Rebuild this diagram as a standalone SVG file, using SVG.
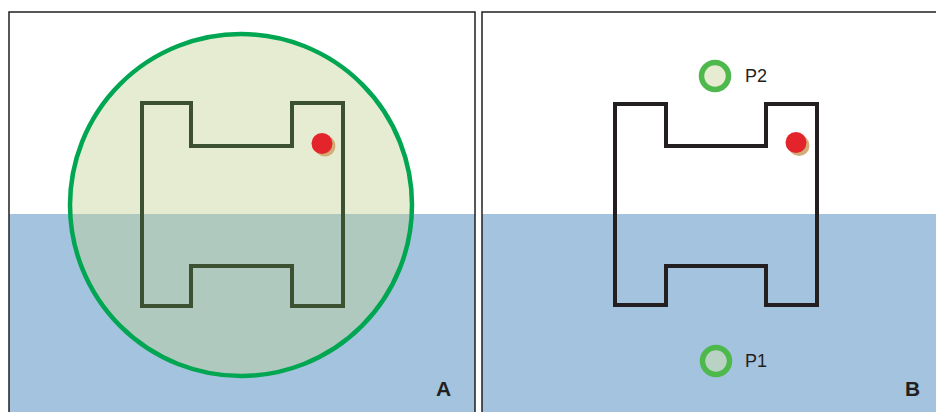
<svg xmlns="http://www.w3.org/2000/svg" width="936" height="412" viewBox="0 0 936 412">
<style>
.water{fill:#a3c3df}
.frame{fill:none;stroke:#231f20;stroke-width:1.5}
.shapeA{fill:none;stroke:#3b5131;stroke-width:4;stroke-linejoin:miter}
.shapeB{fill:none;stroke:#231f20;stroke-width:4;stroke-linejoin:miter}
.dot{fill:#e4242b}
.shadow{fill:#d2ad78}
.ring{stroke:#4db84b;stroke-width:5.5}
.lbl{font-family:"Liberation Sans",Arial,sans-serif;fill:#231f20}
.big{font-size:21px;font-weight:bold}
.small{font-size:18px}
</style>
<rect width="936" height="412" fill="#ffffff"/>
<g id="panelA">
<rect class="water" x="9" y="214" width="466" height="198"/>
<circle id="rangeCircle" cx="241" cy="205" r="171" fill="#c2d192" fill-opacity="0.41" stroke="#00a651" stroke-width="4.5"/>
<path id="buildingA" class="shapeA" d="M142,103 H191 V146 H292 V103 H343 V306 H292 V266 H191 V306 H142 Z"/>
<g id="pointA"><circle class="shadow" cx="325" cy="146" r="10.5"/><circle class="dot" cx="322" cy="143.5" r="10.5"/></g>
<polyline class="frame" points="9,412 9,12 475,12 475,412"/>
<text class="lbl big" x="436" y="396">A</text>
</g>
<g id="panelB">
<rect class="water" x="482" y="214" width="454" height="198"/>
<path id="buildingB" class="shapeB" d="M615,104 H666 V146 H766 V104 H817 V305 H766 V266 H666 V305 H615 Z"/>
<g id="pointB"><circle class="shadow" cx="799" cy="145.5" r="10.5"/><circle class="dot" cx="796" cy="142.5" r="10.5"/></g>
<g id="P2"><circle class="ring" cx="715" cy="76" r="13.5" fill="#e6ecd2"/><text class="lbl small" x="745" y="82">P2</text></g>
<g id="P1"><circle class="ring" cx="716" cy="361" r="13.5" fill="#b9d2c4"/><text class="lbl small" x="745" y="367">P1</text></g>
<polyline class="frame" points="482,412 482,12 936,12"/>
<text class="lbl big" x="905" y="396">B</text>
</g>
</svg>
